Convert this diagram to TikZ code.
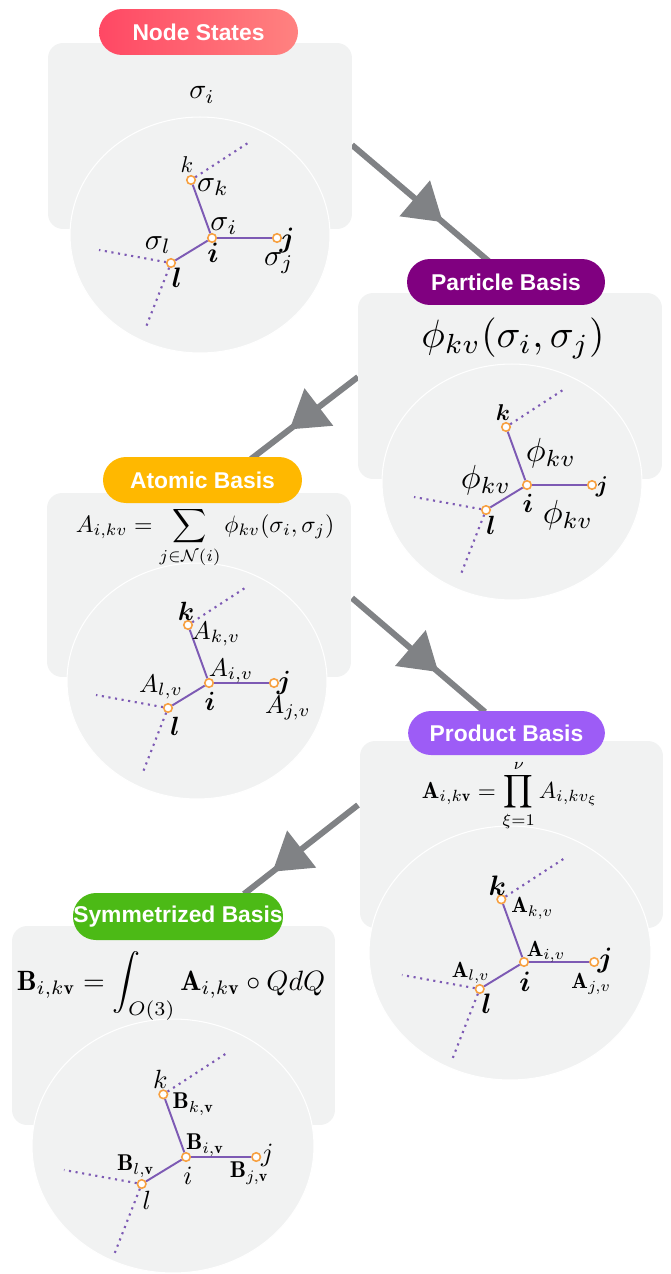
\documentclass[tikz,border=0pt]{standalone}
\usepackage{amsmath,amssymb,bm}
\usepackage{fontspec}
\newfontfamily\pillfont{Liberation Sans}
\usepackage{xcolor}
\usetikzlibrary{arrows.meta,calc,shapes.geometric,decorations.markings,backgrounds}

\definecolor{panelgray}{RGB}{241,242,242}
\definecolor{flowgray}{RGB}{128,130,133}
\definecolor{siteorange}{RGB}{247,160,64}
\definecolor{bondpurple}{RGB}{125,90,180}
\definecolor{nsred}{RGB}{255,72,100}
\definecolor{nssalmon}{RGB}{255,130,128}
\definecolor{pbpurple}{RGB}{128,0,128}
\definecolor{abamber}{RGB}{255,184,0}
\definecolor{prviolet}{RGB}{157,92,246}
\definecolor{sbgreen}{RGB}{76,186,22}

% four sites i,k,j,l with their bonds, around (0,0) = site i
\newcommand{\skeleton}[1]{%
  \node[site] (#1-i) at (0,0) {};
  \node[site] (#1-k) at (-21,-58) {};
  \node[site] (#1-j) at (65,0) {};
  \node[site] (#1-l) at (-41,25) {};
  \draw[bond] (#1-k) -- (#1-i) -- (#1-j);
  \draw[bond] (#1-i) -- (#1-l);
  \draw[ghost] (#1-k) -- ++(60,-39);
  \draw[ghost] (#1-l) -- ++(-72,-13);
  \draw[ghost] (#1-l) -- ++(-25,64);
}

\begin{document}
\begin{tikzpicture}[x=0.02cm, y=-0.02cm,
  panel/.style={fill=panelgray, rounded corners=0.3cm, inner sep=0},
  disc/.style={ellipse, fill=panelgray, draw=white, line width=0.6pt, inner sep=0},
  pill/.style={rounded corners=0.46cm, minimum height=0.92cm, text=white, font=\pillfont\bfseries\fontsize{13}{13}\selectfont, inner sep=0},
  site/.style={circle, draw=siteorange, fill=white, line width=0.9pt, minimum size=0.17cm, inner sep=0},
  bond/.style={draw=bondpurple, line width=1.1pt},
  ghost/.style={draw=bondpurple, line width=1.2pt, dash pattern=on 1.2pt off 2.6pt},
  eq/.style={scale=#1, inner sep=0},
  flow/.style={draw=flowgray, line width=3.4pt, postaction={decorate},
    decoration={markings, mark=at position #1 with {\arrow{Triangle[length=21pt,width=26pt]}}}}]
\useasboundingbox (0,0) rectangle (670,1274);

% Node States
\node[panel, minimum width=6.08cm, minimum height=3.72cm] (ns-box) at (200,136) {};
\node[disc, minimum width=5.2cm, minimum height=4.72cm] (ns-disc) at (200,235) {};
\node[pill, minimum width=3.98cm, left color=nsred, right color=nssalmon] (ns-pill) at (198.5,32) {Node States};
\node[eq=1.6] (ns-eq) at (202,95) {$\sigma_i$};
\begin{scope}[shift={(212,238)}]
  \skeleton{ns}
\end{scope}
\node[eq=1.3] (ns-kt) at ($(ns-k)+(-4,-15)$) {$k$};
\node[eq=1.7] (ns-ks) at ($(ns-k)+(22,7)$) {$\sigma_k$};
\node[eq=1.7] (ns-is) at ($(ns-i)+(12,-12)$) {$\sigma_i$};
\node[eq=1.6] (ns-it) at ($(ns-i)+(1,15)$) {$\boldsymbol{i}$};
\node[eq=1.6] (ns-jt) at ($(ns-j)+(10,2)$) {$\boldsymbol{j}$};
\node[eq=1.7] (ns-js) at ($(ns-j)+(2,25)$) {$\sigma_j$};
\node[eq=1.7] (ns-ls) at ($(ns-l)+(-13,-18)$) {$\sigma_l$};
\node[eq=1.6] (ns-lt) at ($(ns-l)+(6,15)$) {$\boldsymbol{l}$};

% Particle Basis
\node[panel, minimum width=6.08cm, minimum height=3.72cm] (pb-box) at (510,386) {};
\node[disc, minimum width=5.2cm, minimum height=4.72cm] (pb-disc) at (512,482) {};
\node[pill, minimum width=3.96cm, fill=pbpurple] (pb-pill) at (506,282) {Particle Basis};
\node[eq=2.25] (pb-eq) at (513,338) {$\phi_{kv}(\sigma_i,\sigma_j)$};
\begin{scope}[shift={(527,485)}]
  \skeleton{pb}
\end{scope}
\node[eq=1.3] (pb-kt) at ($(pb-k)+(-3,-14)$) {$\boldsymbol{k}$};
\node[eq=1.9] (pb-ik) at ($(pb-i)+(24,-32)$) {$\phi_{kv}$};
\node[eq=1.9] (pb-il) at ($(pb-i)+(-41,-5)$) {$\phi_{kv}$};
\node[eq=1.5] (pb-it) at ($(pb-i)+(1,18)$) {$\boldsymbol{i}$};
\node[eq=1.3] (pb-jt) at ($(pb-j)+(10,2)$) {$\boldsymbol{j}$};
\node[eq=1.9] (pb-ij) at ($(pb-i)+(41,30)$) {$\phi_{kv}$};
\node[eq=1.5] (pb-lt) at ($(pb-l)+(5,15)$) {$\boldsymbol{l}$};

% Atomic Basis
\node[panel, minimum width=6.08cm, minimum height=3.68cm] (ab-box) at (199,585) {};
\node[disc, minimum width=5.2cm, minimum height=4.72cm] (ab-disc) at (197,681) {};
\node[pill, minimum width=3.98cm, fill=abamber] (ab-pill) at (202.5,480) {Atomic Basis};
\node[eq=1.35, anchor=base] (ab-eq) at (205,532)
  {$\displaystyle A_{i,kv} = \sum_{j\in\mathcal{N}(i)} \phi_{kv}(\sigma_i,\sigma_j)$};
\begin{scope}[shift={(209,683)}]
  \skeleton{ab}
\end{scope}
\node[eq=1.5] (ab-kt) at ($(ab-k)+(-2,-14)$) {$\boldsymbol{k}$};
\node[eq=1.45] (ab-ka) at ($(ab-k)+(28,9)$) {$A_{k,v}$};
\node[eq=1.45] (ab-ia) at ($(ab-i)+(22,-12)$) {$A_{i,v}$};
\node[eq=1.5] (ab-it) at ($(ab-i)+(1,18)$) {$\boldsymbol{i}$};
\node[eq=1.5] (ab-jt) at ($(ab-j)+(10,0)$) {$\boldsymbol{j}$};
\node[eq=1.45] (ab-ja) at ($(ab-j)+(14,25)$) {$A_{j,v}$};
\node[eq=1.45] (ab-la) at ($(ab-l)+(-7,-21)$) {$A_{l,v}$};
\node[eq=1.5] (ab-lt) at ($(ab-l)+(7,18)$) {$\boldsymbol{l}$};

% Product Basis
\node[panel, minimum width=6.06cm, minimum height=3.74cm] (pr-box) at (511.5,834.5) {};
\node[disc, minimum width=5.64cm, minimum height=5.08cm] (pr-disc) at (510,953) {};
\node[pill, minimum width=3.94cm, minimum height=0.88cm, fill=prviolet] (pr-pill) at (506.5,733) {Product Basis};
\node[eq=1.32, anchor=base] (pr-eq) at (510,798)
  {$\displaystyle \mathbf{A}_{i,k\mathbf{v}} = \prod_{\xi=1}^{\nu} A_{i,kv_\xi}$};
\begin{scope}[shift={(524,962)}, scale=1.08]
  \skeleton{pr}
\end{scope}
\node[eq=1.6] (pr-kt) at ($(pr-k)+(-4,-14)$) {$\boldsymbol{k}$};
\node[eq=1.25] (pr-ka) at ($(pr-k)+(31,9)$) {$\mathbf{A}_{k,v}$};
\node[eq=1.25] (pr-ia) at ($(pr-i)+(22,-10)$) {$\mathbf{A}_{i,v}$};
\node[eq=1.6] (pr-it) at ($(pr-i)+(1,20)$) {$\boldsymbol{i}$};
\node[eq=1.6] (pr-jt) at ($(pr-j)+(11,-2)$) {$\boldsymbol{j}$};
\node[eq=1.25] (pr-ja) at ($(pr-j)+(-3,22)$) {$\mathbf{A}_{j,v}$};
\node[eq=1.25] (pr-la) at ($(pr-l)+(-9,-16)$) {$\mathbf{A}_{l,v}$};
\node[eq=1.6] (pr-lt) at ($(pr-l)+(7,15)$) {$\boldsymbol{l}$};

% Symmetrized Basis
\node[panel, minimum width=6.46cm, minimum height=3.98cm] (sb-box) at (173.5,1025.5) {};
\node[disc, minimum width=5.64cm, minimum height=5.08cm] (sb-disc) at (173,1146) {};
\node[pill, minimum width=4.2cm, minimum height=0.94cm, fill=sbgreen] (sb-pill) at (178,916.5) {Symmetrized Basis};
\node[eq=1.59, anchor=base] (sb-eq) at (171,990)
  {$\displaystyle \mathbf{B}_{i,k\mathbf{v}} = \int_{O(3)} \mathbf{A}_{i,k\mathbf{v}} \circ Q dQ$};
\begin{scope}[shift={(186,1157)}, scale=1.08]
  \skeleton{sb}
\end{scope}
\node[eq=1.5] (sb-kt) at ($(sb-k)+(-3,-15)$) {$k$};
\node[eq=1.3] (sb-kb) at ($(sb-k)+(30,10)$) {$\mathbf{B}_{k,\mathbf{v}}$};
\node[eq=1.3] (sb-ib) at ($(sb-i)+(19,-12)$) {$\mathbf{B}_{i,\mathbf{v}}$};
\node[eq=1.5] (sb-it) at ($(sb-i)+(2,19)$) {$i$};
\node[eq=1.5] (sb-jt) at ($(sb-j)+(11,-2)$) {$j$};
\node[eq=1.3] (sb-jb) at ($(sb-j)+(-7,16)$) {$\mathbf{B}_{j,\mathbf{v}}$};
\node[eq=1.3] (sb-lb) at ($(sb-l)+(-6,-18)$) {$\mathbf{B}_{l,\mathbf{v}}$};
\node[eq=1.5] (sb-lt) at ($(sb-l)+(5,16)$) {$l$};

% flow between the stages
\begin{scope}[on background layer]
  \coordinate (f1a) at (352,145);  \coordinate (f1b) at (492,264);
  \coordinate (f2a) at (358,377);  \coordinate (f2b) at (251,459);
  \coordinate (f3a) at (352,598);  \coordinate (f3b) at (485,712);
  \coordinate (f4a) at (358,805);  \coordinate (f4b) at (244,894);
  \draw[flow=0.65] (f1a) -- (f1b);
  \draw[flow=0.64] (f2a) -- (f2b);
  \draw[flow=0.65] (f3a) -- (f3b);
  \draw[flow=0.75] (f4a) -- (f4b);
\end{scope}
\end{tikzpicture}
\end{document}
